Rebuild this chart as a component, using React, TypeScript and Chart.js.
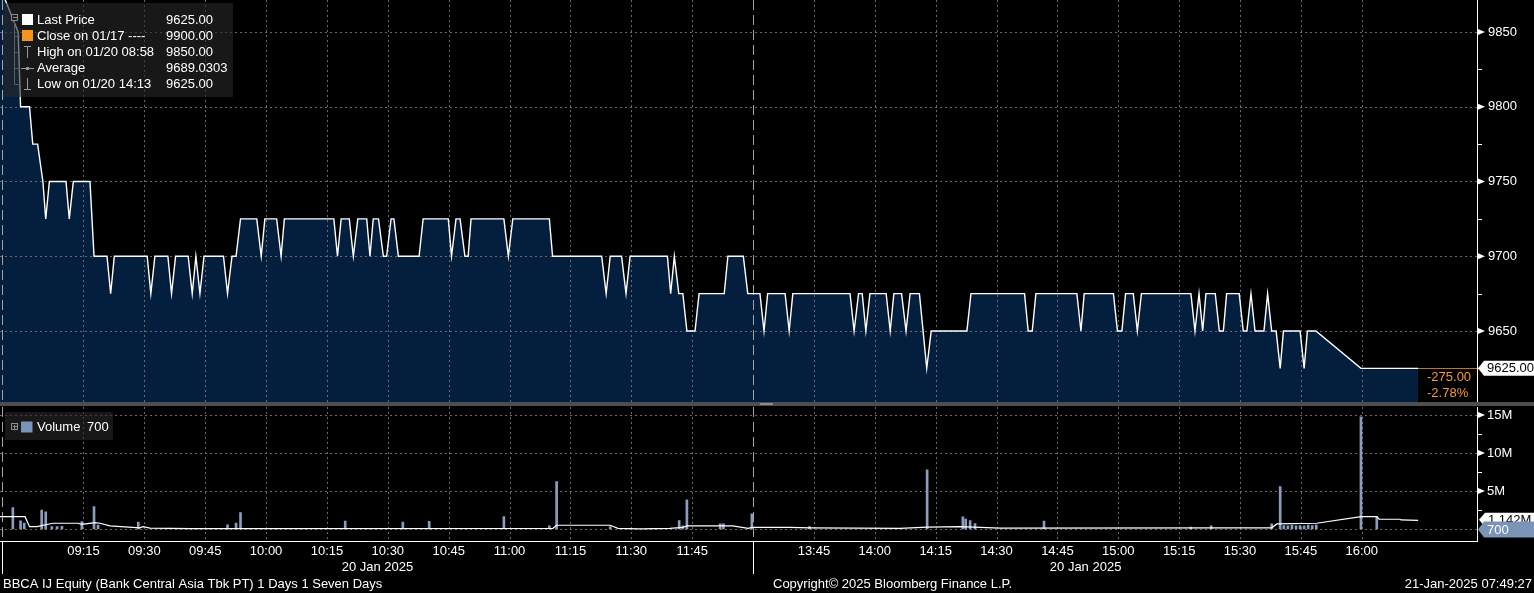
import React, { useEffect, useRef } from "react";
import { Chart, registerables } from "chart.js";

Chart.register(...registerables);

const FONT_FAMILY = '"Liberation Sans", Arial, Helvetica, sans-serif';
const FONT = `13px ${FONT_FAMILY}`;

// x values are trading minutes after 09:00; the afternoon session continues at 180 (= 13:30)
const X_MIN = -5.57;
const X_MAX = 358.4;

const priceMinutes = [
  -8.5, -1.1, -0.5, 1.7, 2.5, 3.7, 5.0, 5.7, 6.6, 10.7, 11.5, 12.5, 16.6, 17.6,
  20.8, 21.7, 22.6, 30.7, 31.6, 32.6, 35.8, 36.7, 37.7, 40.8, 41.8, 42.7, 43.7, 44.7,
  49.5, 50.5, 51.6, 52.6, 53.7, 57.7, 58.8, 59.7, 62.6, 63.7, 64.5, 76.7, 77.6, 78.5,
  80.5, 81.5, 82.6, 84.8, 85.6, 86.4, 87.7, 88.9, 89.7, 90.8, 91.5, 92.6, 97.7, 98.7,
  104.9, 105.7, 106.8, 107.8, 109.0, 109.8, 110.5, 118.6, 119.7, 120.8, 129.8, 130.6,
  142.7, 143.8, 144.8, 147.6, 148.7, 149.7, 158.9, 159.7, 160.6, 161.7, 162.7, 163.7,
  165.7, 166.7, 172.9, 173.8, 177.6, 178.7, 181.7, 182.7, 183.6, 187.9, 188.9, 189.8,
  203.9, 204.9, 206.0, 206.9, 207.8, 208.8, 212.8, 213.8, 214.7, 216.6, 217.7, 218.7,
  221.0, 222.8, 223.9, 232.7, 233.7, 246.9, 247.8, 248.8, 249.7, 259.8, 260.8, 261.6,
  268.8, 269.8, 270.9, 271.8, 273.7, 274.7, 275.7, 287.9, 288.9, 289.9, 290.8, 291.6,
  293.9, 294.9, 295.9, 296.7, 299.8, 300.8, 301.7, 302.7, 303.7, 305.9, 306.8, 307.8,
  308.9, 309.9, 310.7, 314.8, 315.8, 316.6, 318.7, 329.8, 343.9,
];
const priceValues = [
  9900, 9850, 9800, 9800, 9775, 9775, 9750, 9725, 9750, 9750, 9725, 9750, 9750, 9700,
  9700, 9675, 9700, 9700, 9675, 9700, 9700, 9675, 9700, 9700, 9675, 9700, 9675, 9700,
  9700, 9675, 9700, 9700, 9725, 9725, 9700, 9725, 9725, 9700, 9725, 9725, 9700, 9725,
  9725, 9700, 9725, 9725, 9700, 9725, 9725, 9700, 9700, 9725, 9725, 9700, 9700, 9725,
  9725, 9700, 9725, 9725, 9700, 9700, 9725, 9725, 9700, 9725, 9725, 9700,
  9700, 9675, 9700, 9700, 9675, 9700, 9700, 9675, 9700, 9675, 9675, 9650,
  9650, 9675, 9675, 9700, 9700, 9675, 9675, 9650, 9675, 9675, 9650, 9675,
  9675, 9650, 9675, 9675, 9650, 9675, 9675, 9650, 9675, 9675, 9650, 9675,
  9675, 9625, 9650, 9650, 9675, 9675, 9650, 9650, 9675, 9675, 9650, 9675,
  9675, 9650, 9650, 9675, 9675, 9650, 9675, 9675, 9650, 9675, 9650, 9675,
  9675, 9650, 9650, 9675, 9675, 9650, 9650, 9675, 9650, 9650, 9675, 9650,
  9650, 9625, 9650, 9650, 9625, 9650, 9650, 9625, 9625,
];

// volume in millions of shares
const volumeMinutes = [
  -2.4, -0.5, 0.4, 4.7, 5.7, 7.2, 8.5, 9.7, 14.6, 17.6, 18.6, 28.5, 50.5, 52.6, 53.7,
  79.5, 93.7, 100.2, 118.6, 129.8, 131.6, 144.8, 161.8, 162.7, 163.7, 171.9, 172.7,
  179.7, 193.9, 222.9, 231.7, 232.4, 233.5, 234.7, 251.7, 287.9, 292.9, 307.8, 309.9,
  310.8, 311.8, 312.8, 313.8, 314.8, 315.8, 316.8, 317.8, 318.8, 329.8, 333.7,
];
const volumeValues = [
  2.81, 1.06, 0.79, 2.5, 2.24, 0.3, 0.3, 0.35, 0.96, 2.94, 0.5, 0.92, 0.53, 0.79, 2.15,
  1.05, 0.9, 1.0, 1.62, 0.4, 6.24, 0.3, 1.09, 0.4, 3.83, 0.66, 0.66,
  1.98, 0.3, 7.78, 1.6, 1.3, 1.1, 0.7, 1.05, 0.25, 0.4, 0.66, 5.58,
  0.45, 0.4, 0.5, 0.4, 0.45, 0.4, 0.5, 0.45, 0.5, 14.77, 1.62,
];
const volAvgMinutes = [
  -5.6, 0.6, 1.7, 3.5, 7.5, 13.7, 14.6, 17.8, 19.1, 21.5, 28.9, 29.7, 31.4, 41.3,
  130.7, 131.6, 144.8, 146.7, 152.1, 159.5, 162.7, 163.7, 175.0, 178.8, 179.7, 189.1,
  194.0, 216.2, 222.9, 231.0, 240.9, 298.8, 307.8, 309.1, 318.9, 329.8, 333.7, 334.3,
  339.4, 339.7, 343.9,
];
const volAvgValues = [
  1.62, 1.62, 0.3, 0.3, 0.75, 0.75, 0.6, 0.83, 0.75, 0.4, 0.15, 0.3, 0.12, 0.05,
  0.09, 0.49, 0.49, 0.09, 0.02, 0.09, 0.2, 0.4, 0.4, 0.09, 0.2, 0.2,
  0.15, 0.09, 0.25, 0.3, 0.12, 0.15, 0.15, 0.66, 0.75, 1.62, 1.62, 1.28,
  1.28, 1.19, 1.142,
];

const priceTicks = [9650, 9700, 9750, 9800, 9850];
const priceMinorTicks = [9625, 9675, 9725, 9775, 9825];
const volumeTicks = [5, 10, 15];
const volumeMinorTicks = [2.5, 7.5, 12.5];
const timeTickMinutes = [
  15, 30, 45, 60, 75, 90, 105, 120, 135, 150, 165, 195, 210, 225, 240, 255, 270, 285, 300, 315, 330,
];
const timeTickLabels = [
  "09:15", "09:30", "09:45", "10:00", "10:15", "10:30", "10:45", "11:00", "11:15", "11:30", "11:45",
  "13:45", "14:00", "14:15", "14:30", "14:45", "15:00", "15:15", "15:30", "15:45", "16:00",
];
const sessionBreaks = [-5.1, 180];
const dateLabel = "20 Jan 2025";

const legendLabels = ["Last Price", "Close on 01/17 ----", "High on 01/20 08:58", "Average", "Low on 01/20 14:13"];
const legendValues = ["9625.00", "9900.00", "9850.00", "9689.0303", "9625.00"];
const lastPriceLabel = "9625.00";
const changeLabels = ["-275.00", "-2.78%"];
const volumeLegend = ["Volume", "700"];
const volAvgLastLabel = "1.142M";
const volumeLastLabel = "700";
const footerLeft = "BBCA IJ Equity (Bank Central Asia Tbk PT) 1 Days 1 Seven Days";
const footerMid = "Copyright\u00a9 2025 Bloomberg Finance L.P.";
const footerRight = "21-Jan-2025 07:49:27";

const GRID = "#6a6a6a";
const SESSION = "#a4a4a4";
const NAVY = "#041f3e";
const ORANGE = "#f39a3c";
const VOL_BLUE = "#8a9dbd";
const VOL_BOX = "#7c93b8";

function arrowLabel(ctx: CanvasRenderingContext2D, tipX: number, cy: number, w: number, h: number, fill: string, text: string, color: string) {
  ctx.beginPath();
  ctx.moveTo(tipX, cy);
  ctx.lineTo(tipX + 6, cy - h / 2);
  ctx.lineTo(tipX + w, cy - h / 2);
  ctx.lineTo(tipX + w, cy + h / 2);
  ctx.lineTo(tipX + 6, cy + h / 2);
  ctx.closePath();
  ctx.fillStyle = fill;
  ctx.fill();
  ctx.fillStyle = color;
  ctx.font = FONT;
  ctx.textAlign = "left";
  ctx.textBaseline = "middle";
  ctx.fillText(text, tipX + 9, cy + 0.5);
}

function axisMarks(ctx: CanvasRenderingContext2D, x0: number, majors: number[], minors: number[]) {
  ctx.fillStyle = "#fff";
  ctx.strokeStyle = "#fff";
  ctx.lineWidth = 1;
  for (const py of majors) {
    ctx.beginPath();
    ctx.moveTo(x0, py - 3);
    ctx.lineTo(x0 + 7, py);
    ctx.lineTo(x0, py + 3);
    ctx.closePath();
    ctx.fill();
  }
  ctx.beginPath();
  for (const py of minors) {
    const yy = Math.round(py) + 0.5;
    ctx.moveTo(x0, yy);
    ctx.lineTo(x0 + 4, yy);
  }
  ctx.stroke();
}

function drawGrid(chart: any, yTicks: number[]) {
  const { ctx, chartArea: a, scales } = chart;
  const x = scales.x;
  const y = scales.y;
  ctx.save();
  ctx.lineWidth = 1;
  ctx.strokeStyle = GRID;
  ctx.setLineDash([2, 3]);
  ctx.beginPath();
  for (const m of timeTickMinutes) {
    const px = Math.round(x.getPixelForValue(m)) + 0.5;
    ctx.moveTo(px, a.top);
    ctx.lineTo(px, a.bottom);
  }
  for (const v of yTicks) {
    const py = Math.round(y.getPixelForValue(v)) + 0.5;
    ctx.moveTo(a.left, py);
    ctx.lineTo(a.right, py);
  }
  ctx.stroke();
  ctx.strokeStyle = SESSION;
  ctx.setLineDash([10, 5]);
  ctx.beginPath();
  for (const m of sessionBreaks) {
    const px = Math.round(x.getPixelForValue(m)) + 0.5;
    ctx.moveTo(px, a.top);
    ctx.lineTo(px, a.bottom);
  }
  ctx.stroke();
  ctx.restore();
}

function drawPriceLegend(ctx: CanvasRenderingContext2D) {
  ctx.save();
  ctx.fillStyle = "rgba(40,40,40,0.6)";
  ctx.fillRect(3, 3, 230, 94);
  const rows = [20.5, 36.5, 52.5, 68.5, 84.5];
  // tree connector
  ctx.strokeStyle = "#5c5c5c";
  ctx.lineWidth = 1;
  ctx.beginPath();
  ctx.moveTo(14.5, 21);
  ctx.lineTo(14.5, 84.5);
  for (let i = 1; i < rows.length; i++) {
    ctx.moveTo(14.5, rows[i]);
    ctx.lineTo(20, rows[i]);
  }
  ctx.stroke();
  // collapse box
  ctx.fillStyle = "#1c1c1c";
  ctx.fillRect(11, 14, 7, 7);
  ctx.strokeStyle = "#8c8c8c";
  ctx.strokeRect(11.5, 14.5, 6, 6);
  ctx.beginPath();
  ctx.moveTo(13, 17.5);
  ctx.lineTo(17, 17.5);
  ctx.stroke();
  // markers
  ctx.fillStyle = "#ffffff";
  ctx.fillRect(22, 14, 11, 11);
  ctx.fillStyle = "#f7941d";
  ctx.fillRect(22, 30, 11, 11);
  ctx.strokeStyle = "#9a9a9a";
  ctx.beginPath();
  ctx.moveTo(27.5, 46);
  ctx.lineTo(27.5, 58);
  ctx.moveTo(24, 46.5);
  ctx.lineTo(31, 46.5);
  ctx.moveTo(21, 68.5);
  ctx.lineTo(34, 68.5);
  ctx.moveTo(27.5, 78);
  ctx.lineTo(27.5, 90);
  ctx.moveTo(24, 89.5);
  ctx.lineTo(31, 89.5);
  ctx.stroke();
  ctx.fillStyle = "#9a9a9a";
  ctx.beginPath();
  ctx.arc(27.5, 68.5, 1.8, 0, Math.PI * 2);
  ctx.fill();
  // texts
  ctx.font = FONT;
  ctx.textBaseline = "middle";
  ctx.textAlign = "left";
  ctx.fillStyle = "#ffffff";
  for (let i = 0; i < rows.length; i++) {
    ctx.fillText(legendLabels[i], 37, rows[i]);
    ctx.fillText(legendValues[i], 166, rows[i]);
  }
  ctx.restore();
}

function drawVolumeLegend(ctx: CanvasRenderingContext2D) {
  ctx.save();
  ctx.fillStyle = "rgba(40,40,40,0.6)";
  ctx.fillRect(5, 5, 108, 28);
  ctx.fillStyle = "#1c1c1c";
  ctx.fillRect(11, 16, 7, 7);
  ctx.strokeStyle = "#8c8c8c";
  ctx.lineWidth = 1;
  ctx.strokeRect(11.5, 16.5, 6, 6);
  ctx.beginPath();
  ctx.moveTo(13, 19.5);
  ctx.lineTo(17, 19.5);
  ctx.moveTo(14.5, 18);
  ctx.lineTo(14.5, 22);
  ctx.stroke();
  ctx.fillStyle = VOL_BOX;
  ctx.fillRect(21, 14.5, 11.5, 11);
  ctx.font = FONT;
  ctx.textBaseline = "middle";
  ctx.textAlign = "left";
  ctx.fillStyle = "#ffffff";
  ctx.fillText(volumeLegend[0], 37, 20.5);
  ctx.fillText(volumeLegend[1], 87, 20.5);
  ctx.restore();
}

const pricePlugin = {
  id: "pricePanel",
  beforeDatasetsDraw(chart: any) {
    drawGrid(chart, priceTicks);
  },
  afterDraw(chart: any) {
    const { ctx, chartArea: a, scales } = chart;
    const x = scales.x;
    const y = scales.y;
    ctx.save();
    ctx.strokeStyle = "#ffffff";
    ctx.lineWidth = 1;
    ctx.beginPath();
    ctx.moveTo(a.right + 0.5, 0);
    ctx.lineTo(a.right + 0.5, chart.height);
    ctx.stroke();
    axisMarks(
      ctx,
      a.right + 1,
      priceTicks.map((v) => y.getPixelForValue(v)),
      priceMinorTicks.map((v) => y.getPixelForValue(v))
    );
    const last = priceValues[priceValues.length - 1];
    const ly = Math.round(y.getPixelForValue(last)) + 0.5;
    const ex = x.getPixelForValue(priceMinutes[priceMinutes.length - 1]);
    ctx.strokeStyle = "#b8762f";
    ctx.beginPath();
    ctx.moveTo(ex, ly);
    ctx.lineTo(a.right, ly);
    ctx.stroke();
    ctx.font = FONT;
    ctx.fillStyle = ORANGE;
    ctx.textAlign = "left";
    ctx.textBaseline = "middle";
    ctx.fillText(changeLabels[0], 1427, ly + 8.5);
    ctx.fillText(changeLabels[1], 1427, ly + 24.5);
    arrowLabel(ctx, a.right + 1, y.getPixelForValue(last), 56, 15, "#ffffff", lastPriceLabel, "#000000");
    drawPriceLegend(ctx);
    ctx.restore();
  },
};

const volumePlugin = {
  id: "volumePanel",
  beforeDatasetsDraw(chart: any) {
    drawGrid(chart, [0, ...volumeTicks]);
  },
  afterDraw(chart: any) {
    const { ctx, chartArea: a, scales } = chart;
    const x = scales.x;
    const y = scales.y;
    ctx.save();
    ctx.strokeStyle = "#ffffff";
    ctx.lineWidth = 1;
    ctx.beginPath();
    ctx.moveTo(a.right + 0.5, 0);
    ctx.lineTo(a.right + 0.5, a.bottom);
    ctx.moveTo(0, a.bottom);
    ctx.lineTo(a.right + 1, a.bottom);
    for (const m of sessionBreaks) {
      const px = Math.round(x.getPixelForValue(m)) + 0.5;
      ctx.moveTo(px, a.bottom);
      ctx.lineTo(px, 167);
    }
    ctx.stroke();
    axisMarks(
      ctx,
      a.right + 1,
      volumeTicks.map((v) => y.getPixelForValue(v)),
      volumeMinorTicks.map((v) => y.getPixelForValue(v))
    );
    arrowLabel(ctx, a.right + 2, y.getPixelForValue(volAvgValues[volAvgValues.length - 1]) - 0.5, 55, 14, "#ffffff", volAvgLastLabel, "#000000");
    arrowLabel(ctx, a.right + 1, y.getPixelForValue(0) + 0.5, 56, 16, VOL_BOX, volumeLastLabel, "#ffffff");
    drawVolumeLegend(ctx);
    // date labels and footer
    ctx.font = FONT;
    ctx.fillStyle = "#ffffff";
    ctx.textBaseline = "middle";
    ctx.textAlign = "center";
    const lastMinute = priceMinutes[priceMinutes.length - 1];
    const mid1 = (sessionBreaks[0] + sessionBreaks[1]) / 2;
    const mid2 = (sessionBreaks[1] + lastMinute) / 2;
    ctx.fillText(dateLabel, x.getPixelForValue(mid1), 160);
    ctx.fillText(dateLabel, x.getPixelForValue(mid2), 160);
    ctx.textAlign = "left";
    ctx.fillText(footerLeft, 3, 177.5);
    ctx.fillText(footerMid, 773, 177.5);
    ctx.textAlign = "right";
    ctx.fillText(footerRight, 1532, 177.5);
    ctx.restore();
  },
};

export default function App() {
  const priceRef = useRef<HTMLCanvasElement>(null);
  const volRef = useRef<HTMLCanvasElement>(null);

  useEffect(() => {
    document.body.style.margin = "0";
    document.body.style.background = "#000";
    Chart.defaults.font.family = FONT_FAMILY;

    const priceChart = new Chart(priceRef.current as HTMLCanvasElement, {
      type: "line",
      data: {
        datasets: [
          {
            data: priceMinutes.map((m, i) => ({ x: m, y: priceValues[i] })),
            borderColor: "#ffffff",
            borderWidth: 1.4,
            backgroundColor: NAVY,
            fill: "start",
            pointRadius: 0,
            tension: 0,
          },
        ],
      },
      options: {
        animation: false,
        responsive: false,
        devicePixelRatio: 1,
        events: [],
        layout: { padding: 0 },
        plugins: {
          legend: { display: false },
          tooltip: { enabled: false },
          filler: { drawTime: "beforeDatasetsDraw" },
        } as any,
        scales: {
          x: { type: "linear", min: X_MIN, max: X_MAX, display: false },
          y: {
            type: "linear",
            position: "right",
            min: 9602.5,
            max: 9871.4,
            grid: { display: false, drawTicks: false },
            border: { display: false },
            afterBuildTicks: (s: any) => {
              s.ticks = priceTicks.map((v) => ({ value: v }));
            },
            afterFit: (s: any) => {
              s.width = 57;
              s.paddingTop = 0;
              s.paddingBottom = 0;
            },
            ticks: {
              color: "#ffffff",
              font: { family: FONT_FAMILY, size: 13 },
              padding: 11,
              callback: (v: any) => String(v),
            },
          },
        },
      },
      plugins: [pricePlugin],
    } as any);

    const volumeChart = new Chart(volRef.current as HTMLCanvasElement, {
      type: "bar",
      data: {
        datasets: [
          {
            type: "line",
            data: volAvgMinutes.map((m, i) => ({ x: m, y: volAvgValues[i] })),
            borderColor: "#ffffff",
            borderWidth: 1.2,
            pointRadius: 0,
            fill: false,
            tension: 0,
          },
          {
            type: "bar",
            data: volumeMinutes.map((m, i) => ({ x: m, y: volumeValues[i] })),
            backgroundColor: VOL_BLUE,
            barThickness: 2,
            borderWidth: 0,
          },
        ],
      },
      options: {
        animation: false,
        responsive: false,
        devicePixelRatio: 1,
        events: [],
        layout: { padding: { left: 0, right: 0, top: 0, bottom: 31.5 } },
        plugins: { legend: { display: false }, tooltip: { enabled: false } },
        scales: {
          x: {
            type: "linear",
            min: X_MIN,
            max: X_MAX,
            offset: false,
            grid: { display: false, drawTicks: false, offset: false },
            border: { display: false },
            afterBuildTicks: (s: any) => {
              s.ticks = timeTickMinutes.map((v) => ({ value: v }));
            },
            afterFit: (s: any) => {
              s.height = 20;
              s.paddingLeft = 0;
              s.paddingRight = 0;
            },
            ticks: {
              autoSkip: false,
              maxRotation: 0,
              minRotation: 0,
              color: "#ffffff",
              font: { family: FONT_FAMILY, size: 13 },
              padding: 2,
              callback: (v: any) => {
                const i = timeTickMinutes.indexOf(Number(v));
                return i >= 0 ? timeTickLabels[i] : "";
              },
            },
          },
          y: {
            type: "linear",
            position: "right",
            min: -1.65,
            max: 16.05,
            grid: { display: false, drawTicks: false },
            border: { display: false },
            afterBuildTicks: (s: any) => {
              s.ticks = volumeTicks.map((v) => ({ value: v }));
            },
            afterFit: (s: any) => {
              s.width = 57;
              s.paddingTop = 0;
              s.paddingBottom = 0;
            },
            ticks: {
              color: "#ffffff",
              font: { family: FONT_FAMILY, size: 13 },
              padding: 10,
              callback: (v: any) => `${v}M`,
            },
          },
        },
      },
      plugins: [volumePlugin],
    } as any);

    return () => {
      priceChart.destroy();
      volumeChart.destroy();
    };
  }, []);

  return (
    <div style={{ position: "relative", width: 1534, height: 593, background: "#000", overflow: "hidden" }}>
      <canvas ref={priceRef} width={1534} height={402} style={{ position: "absolute", left: 0, top: 0 }} />
      <div style={{ position: "absolute", left: 0, top: 402, width: 1534, height: 4, background: "#4e4e4e" }} />
      <div style={{ position: "absolute", left: 760, top: 403, width: 13, height: 2, background: "#8c8c8c" }} />
      <canvas ref={volRef} width={1534} height={186} style={{ position: "absolute", left: 0, top: 407 }} />
    </div>
  );
}
